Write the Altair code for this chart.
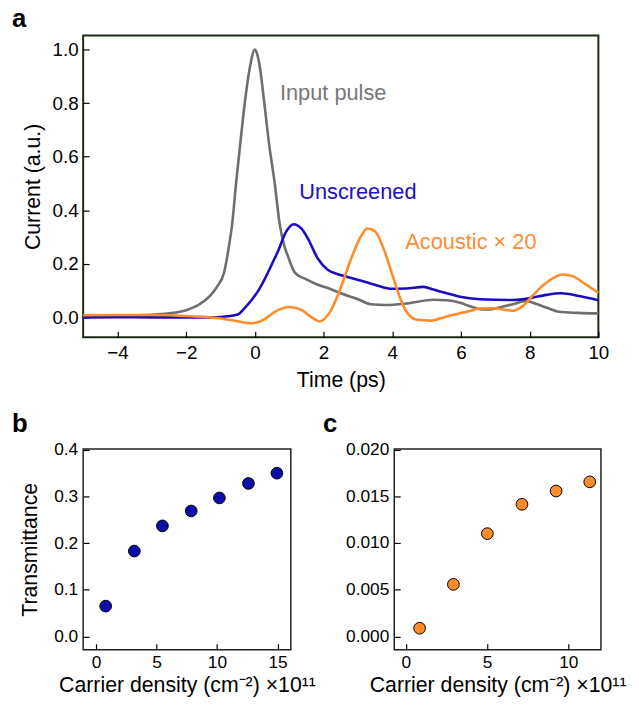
import altair as alt
import pandas as pd

FONT = "Liberation Sans"

# ---------------- panel a data ----------------
t_input = [-5, -4, -3, -2.5, -2, -1.6, -1.3, -1.1, -0.9, -0.75, -0.66, -0.55, -0.4, -0.29, -0.15, 0,
           0.05, 0.15, 0.27, 0.4, 0.58, 0.72, 0.85, 0.96, 1.17, 1.5, 1.83, 2.2, 2.5, 3.0, 3.37, 3.8,
           4.43, 5.2, 5.59, 5.97, 6.3, 6.55, 6.84, 7.2, 7.51, 7.9, 8.2, 8.48, 8.86, 9.4, 10]
v_input = [0.006, 0.007, 0.01, 0.015, 0.027, 0.05, 0.081, 0.115, 0.166, 0.27, 0.35, 0.498, 0.68, 0.805, 0.93, 1.0,
           0.99, 0.93, 0.805, 0.66, 0.498, 0.35, 0.27, 0.229, 0.166, 0.142, 0.122, 0.106, 0.09, 0.068, 0.049, 0.046,
           0.052, 0.066, 0.064, 0.055, 0.04, 0.031, 0.03, 0.04, 0.049, 0.061, 0.05, 0.037, 0.021, 0.017, 0.015]

t_unscreened = [-5, -4, -3, -2, -1.16, -0.8, -0.48, -0.3, -0.1, 0.1, 0.29, 0.5, 0.67, 0.91, 1.13, 1.35, 1.54,
                1.83, 2.12, 2.4, 2.7, 3.1, 3.47, 3.95, 4.4, 4.91, 5.2, 5.59, 5.97, 6.55, 7.51, 7.99, 8.48, 8.91,
                9.44, 10]
v_unscreened = [0.0, 0.001, 0.0, 0.0, 0.0, 0.004, 0.012, 0.035, 0.064, 0.1, 0.144, 0.2, 0.246, 0.32, 0.348, 0.332,
                0.295, 0.22, 0.178, 0.162, 0.151, 0.137, 0.123, 0.107, 0.108, 0.114, 0.104, 0.09, 0.077, 0.068,
                0.065, 0.071, 0.084, 0.09, 0.08, 0.064]

t_acoustic = [-5, -4, -3, -2.5, -1.83, -1.06, -0.48, -0.1, 0.29, 0.58, 1.01, 1.35, 1.73, 1.88, 2.21, 2.5, 2.79,
              3.08, 3.27, 3.51, 3.76, 4.0, 4.24, 4.43, 4.72, 5.1, 5.49, 5.88, 6.2, 6.55, 6.94, 7.51, 7.8, 8.09,
              8.48, 8.96, 9.25, 9.63, 10]
v_acoustic = [0.008, 0.009, 0.009, 0.008, 0.004, -0.003, -0.015, -0.022, -0.006, 0.021, 0.039, 0.028, -0.006,
              -0.015, 0.025, 0.111, 0.215, 0.301, 0.332, 0.32, 0.252, 0.16, 0.068, 0.018, -0.009, -0.012, 0.0,
              0.013, 0.022, 0.033, 0.034, 0.025, 0.043, 0.082, 0.129, 0.16, 0.154, 0.123, 0.092]

labels_a = ["Input pulse", "Unscreened", "Acoustic \u00d7 20"]
label_t = [0.73, 1.29, 4.38]
label_v = [0.812, 0.443, 0.256]

col_input = "#6e6e6e"
col_unscr = "#1c0cc0"
col_acou = "#ff8c28"
label_colors = ["#777777", "#2010c0", "#ff8c30"]

x_ticks_a = [-4, -2, 0, 2, 4, 6, 8, 10]
y_ticks_a = [0.0, 0.2, 0.4, 0.6, 0.8, 1.0]

# ---------------- panel b data ----------------
density_b = [0.8, 3.17, 5.49, 7.87, 10.2, 12.6, 14.95]
trans_b = [0.065, 0.183, 0.237, 0.269, 0.297, 0.328, 0.350]
x_ticks_b = [0, 5, 10, 15]
y_ticks_b = [0.0, 0.1, 0.2, 0.3, 0.4]

# ---------------- panel c data ----------------
density_c = [0.85, 2.93, 5.02, 7.15, 9.25, 11.32]
trans_c = [0.00088, 0.00557, 0.0110, 0.01414, 0.01556, 0.01654]
x_ticks_c = [0, 5, 10]
y_ticks_c = [0.0, 0.005, 0.010, 0.015, 0.020]

panel_letters = ["a", "b", "c"]

XTITLE_BC = "Carrier density (cm\u207b\u00b2) \u00d710\u00b9\u00b9"


def axis(values, fmt, title, label_size, label_pad, title_pad, orient):
    kw = dict(
        values=values, format=fmt, grid=False, domain=False, ticks=True,
        tickSize=6, offset=-6, tickColor="black", tickWidth=1.2,
        labelFont=FONT, labelFontSize=label_size, labelColor="black", labelPadding=label_pad,
        labelFlush=False, labelOverlap=False,
        titleFont=FONT, titleFontSize=21.5, titleFontWeight="normal", titleColor="black",
        titlePadding=title_pad, orient=orient,
    )
    kw["title"] = title
    return alt.Axis(**kw)


def letter(txt, ypix):
    return alt.Chart(pd.DataFrame({"L": [txt]})).mark_text(
        align="left", baseline="alphabetic", fontSize=26, fontWeight="bold", font=FONT, color="black"
    ).encode(text="L:N", x=alt.value(-72), y=alt.value(ypix))


# ---------------- panel a ----------------
df_in = pd.DataFrame({"t": t_input, "v": v_input})
df_un = pd.DataFrame({"t": t_unscreened, "v": v_unscreened})
df_ac = pd.DataFrame({"t": t_acoustic, "v": v_acoustic})
df_lab = pd.DataFrame({"label": labels_a, "t": label_t, "v": label_v, "c": label_colors})

xa = alt.X("t:Q", scale=alt.Scale(domain=[-5, 10], nice=False, zero=False),
           axis=axis(x_ticks_a, "d", "Time (ps)", 19, 7, 7, "bottom"))
ya = alt.Y("v:Q", scale=alt.Scale(domain=[-0.074, 1.052], nice=False, zero=False),
           axis=axis(y_ticks_a, ".1f", "Current (a.u.)", 19, 5, 8, "left"))


def line(df, col):
    return alt.Chart(df).mark_line(color=col, strokeWidth=2.6, interpolate="monotone").encode(x=xa, y=ya)


texts = alt.Chart(df_lab).mark_text(align="left", baseline="alphabetic", fontSize=22, font=FONT).encode(
    x="t:Q", y="v:Q", text="label:N", color=alt.Color("c:N", scale=None))

panel_a = alt.layer(line(df_in, col_input), line(df_un, col_unscr), line(df_ac, col_acou), texts,
                    letter(panel_letters[0], -8.3)).properties(
    width=521, height=305,
    view=alt.ViewBackground(stroke="#1b2a12", strokeWidth=2))

# ---------------- panel b ----------------
df_b = pd.DataFrame({"x": density_b, "y": trans_b})
scatter_b = alt.Chart(df_b).mark_circle(size=140, color="#0c0ca8", stroke="black", strokeWidth=1, opacity=1).encode(
    x=alt.X("x:Q", scale=alt.Scale(domain=[-1.06, 16.1], nice=False, zero=False),
            axis=axis(x_ticks_b, "d", XTITLE_BC, 17.5, 4, 4, "bottom")),
    y=alt.Y("y:Q", scale=alt.Scale(domain=[-0.0285, 0.402], nice=False, zero=False),
            axis=axis(y_ticks_b, ".1f", "Transmittance", 17.5, 5.5, 12, "left")),
)
panel_b = alt.layer(scatter_b, letter(panel_letters[1], -17.3)).properties(
    width=210, height=203, view=alt.ViewBackground(stroke="#202020", strokeWidth=1.5))

# ---------------- panel c ----------------
df_c = pd.DataFrame({"x": density_c, "y": trans_c})
scatter_c = alt.Chart(df_c).mark_circle(size=140, color="#ff8c28", stroke="black", strokeWidth=1, opacity=1).encode(
    x=alt.X("x:Q", scale=alt.Scale(domain=[-0.71, 12.01], nice=False, zero=False),
            axis=axis(x_ticks_c, "d", XTITLE_BC, 17.5, 4, 4, "bottom")),
    y=alt.Y("y:Q", scale=alt.Scale(domain=[-0.00142, 0.02006], nice=False, zero=False),
            axis=axis(y_ticks_c, ".3f", None, 17.5, 5.5, 8, "left")),
)
panel_c = alt.layer(scatter_c, letter(panel_letters[2], -17.3)).properties(
    width=209, height=203, view=alt.ViewBackground(stroke="#202020", strokeWidth=1.5))

bottom = alt.hconcat(panel_b, panel_c, spacing=104.6, bounds="flush")
chart = alt.vconcat(panel_a, bottom, spacing=113, bounds="flush").properties(
    padding={"top": -7, "left": 3, "right": 4, "bottom": 4}
).configure(font=FONT).configure_view(stroke="black", strokeWidth=1.5)

chart.save("out.html", embed_options={"renderer": "svg", "actions": False})
